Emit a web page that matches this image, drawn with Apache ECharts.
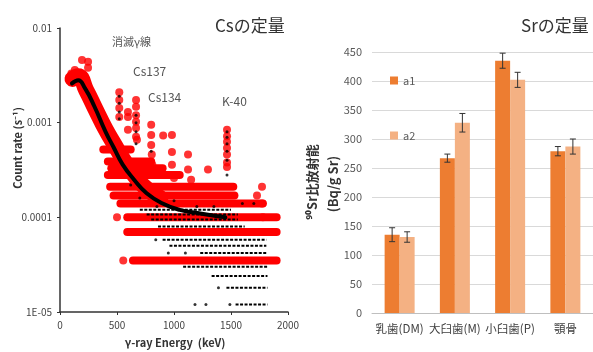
<!DOCTYPE html>
<html>
<head>
<meta charset="utf-8">
<script src="https://cdn.jsdelivr.net/npm/echarts@6/dist/echarts.min.js"></script>
<style>
html, body { margin: 0; padding: 0; background: #fff; }
#main { width: 593px; height: 352px; }
</style>
</head>
<body>
<div id="main"></div>
<script>
// ---- left: Cs spectrum (log scale) ----
var yTickLabels = ['1E-05', '0.0001', '0.001', '0.01'];

// main decay curve (black band)
var curvePts = [[105, 0.0026], [160, 0.0028], [220, 0.0023], [300, 0.0015], [400, 0.0008], [470, 0.00055],
    [550, 0.00036], [650, 0.00025], [760, 0.00018], [900, 0.00014], [1050, 0.00012], [1230, 0.00011], [1450, 0.0001]];
// red cloud around the curve
var redBandPts = [[110, 0.0029], [160, 0.0031], [230, 0.0022], [310, 0.0014], [400, 0.00085], [480, 0.00058],
    [560, 0.0004], [650, 0.00028], [760, 0.0002], [880, 0.00016]];
// quantized rows of red points: [count rate, from keV, to keV]
var redRows = [[5.2e-4, 380, 620], [3.9e-4, 420, 800], [3.3e-4, 450, 900], [2.8e-4, 420, 1050],
    [2.1e-4, 440, 1520], [1.7e-4, 470, 1530], [1.4e-4, 530, 1780], [1.0e-4, 590, 1900],
    [7.0e-5, 590, 1900], [3.5e-5, 640, 1900]];
// quantized rows of black points
var blackRows = [[1.2e-4, 700, 1500], [1.07e-4, 760, 1560], [9.5e-5, 800, 1560], [8.0e-5, 860, 1620],
    [5.8e-5, 900, 1810], [5.0e-5, 960, 1810], [4.2e-5, 1230, 1810], [3.0e-5, 1080, 1820],
    [2.4e-5, 1330, 1820], [1.8e-5, 1460, 1820], [1.2e-5, 1540, 1820]];
// isolated red points (peaks)
var redPts = [[100, 0.0033], [130, 0.0036], [193, 0.0046], [246, 0.0044], [246, 0.0038], [520, 0.0021], [520, 0.00174], [520, 0.00143],
    [520, 0.00115], [667, 0.00174], [667, 0.00147], [667, 0.0012], [667, 0.00102], [667, 0.00088],
    [667, 0.00071], [596, 0.0013], [596, 0.00115], [596, 0.00084], [675, 0.00066], [800, 0.00095],
    [800, 0.00074], [800, 0.00058], [805, 0.00046], [810, 0.00036], [905, 0.00073], [982, 0.00074],
    [982, 0.00049], [982, 0.00036], [1123, 0.00046], [1123, 0.00032], [1298, 0.00032],
    [1465, 0.00084], [1465, 0.00072], [1465, 0.00063], [1465, 0.00054], [1465, 0.00046],
    [1465, 0.00038], [1465, 0.00034], [1772, 0.00021], [1728, 0.00017], [1772, 0.00014],
    [1780, 0.0001], [555, 3.5e-5], [500, 1.0e-4], [1000, 0.00026], [1150, 0.00025]];
// isolated black points
var blackPts = [[520, 0.0019], [520, 0.0016], [520, 0.0013], [520, 0.0011], [667, 0.0012], [667, 0.001],
    [667, 0.0008], [667, 0.0006], [1465, 0.0008], [1465, 0.0007], [1465, 0.0006], [1465, 0.0005],
    [1465, 0.0004], [1465, 0.00028], [800, 0.0005], [1184, 1.2e-5], [1280, 1.2e-5], [1490, 1.2e-5],
    [1390, 1.8e-5], [950, 4.2e-5], [1100, 4.2e-5], [840, 5.8e-5], [620, 0.00022], [700, 0.00016],
    [850, 0.00013], [1000, 0.00015], [1200, 0.00013], [1350, 0.00013], [1600, 0.00014], [1700, 0.00014]];

// ---- right: Sr bars ----
var srCats = ['乳歯(DM)', '大臼歯(M)', '小臼歯(P)', '顎骨'];
var a1 = [135, 267, 435, 279];
var a1Err = [12, 7, 13, 8];
var a2 = [131, 328, 402, 287];
var a2Err = [9, 16, 13, 13];

var myChart = echarts.init(document.getElementById('main'));
var ff = '"Noto Sans CJK JP", "Noto Sans", sans-serif';

function errSeries(name, vals, errs, off) {
    return {
        name: name + 'err',
        type: 'custom',
        xAxisIndex: 1,
        yAxisIndex: 1,
        z: 5,
        data: vals.map(function (v, i) { return [i, v + errs[i], v - errs[i]]; }),
        renderItem: function (params, api) {
            var hi = api.coord([api.value(0), api.value(1)]);
            var lo = api.coord([api.value(0), api.value(2)]);
            var x = hi[0] + off;
            var st = { stroke: '#333', lineWidth: 1 };
            return {
                type: 'group',
                children: [
                    { type: 'line', shape: { x1: x, y1: hi[1], x2: x, y2: lo[1] }, style: st },
                    { type: 'line', shape: { x1: x - 3, y1: hi[1], x2: x + 3, y2: hi[1] }, style: st },
                    { type: 'line', shape: { x1: x - 3, y1: lo[1], x2: x + 3, y2: lo[1] }, style: st }
                ]
            };
        }
    };
}

var series = [];
// red band + rows
series.push({
    type: 'line', xAxisIndex: 0, yAxisIndex: 0, data: redBandPts, symbol: 'none', smooth: true,
    lineStyle: { color: '#ff0000', width: 16, cap: 'round', join: 'round' }, silent: true, z: 1
});
redRows.forEach(function (r) {
    series.push({
        type: 'line', xAxisIndex: 0, yAxisIndex: 0, data: [[r[1], r[0]], [r[2], r[0]]], symbol: 'none',
        lineStyle: { color: '#ff0000', width: 8, cap: 'round' }, silent: true, z: 1
    });
});
series.push({
    type: 'scatter', xAxisIndex: 0, yAxisIndex: 0, data: redPts, symbolSize: 8,
    itemStyle: { color: '#ff0000' }, silent: true, z: 2
});
blackRows.forEach(function (r) {
    series.push({
        type: 'line', xAxisIndex: 0, yAxisIndex: 0, data: [[r[1], r[0]], [r[2], r[0]]], symbol: 'none',
        lineStyle: { color: '#000', width: 2, type: [3, 1.5] }, silent: true, z: 3
    });
});
series.push({
    type: 'line', xAxisIndex: 0, yAxisIndex: 0, data: curvePts, symbol: 'none', smooth: true,
    lineStyle: { color: '#000', width: 4, cap: 'round' }, silent: true, z: 3
});
series.push({
    type: 'scatter', xAxisIndex: 0, yAxisIndex: 0, data: blackPts, symbolSize: 3,
    itemStyle: { color: '#000' }, silent: true, z: 4
});
// bars
series.push({
    name: 'a1', type: 'bar', xAxisIndex: 1, yAxisIndex: 1, data: a1, barWidth: 15, barGap: '0%',
    itemStyle: { color: '#ed7d31' }
});
series.push({
    name: 'a2', type: 'bar', xAxisIndex: 1, yAxisIndex: 1, data: a2, barWidth: 15, barGap: '0%',
    itemStyle: { color: '#f4b183' }
});
series.push(errSeries('a1', a1, a1Err, -7.5));
series.push(errSeries('a2', a2, a2Err, 7.5));

option = {
    animation: false,
    textStyle: { fontFamily: ff },
    title: [
        { text: 'Csの定量', left: 210, top: 12, textStyle: { fontFamily: ff, fontSize: 17, fontWeight: 'normal', color: '#333' } },
        { text: 'Srの定量', left: 516, top: 12, textStyle: { fontFamily: ff, fontSize: 17, fontWeight: 'normal', color: '#333' } }
    ],
    legend: {
        data: ['a1', 'a2'], orient: 'vertical', left: 385, top: 70, itemWidth: 8, itemHeight: 8, itemGap: 44,
        icon: 'rect', textStyle: { color: '#595959', fontSize: 11, fontFamily: ff }
    },
    grid: [
        { left: 60, top: 28, width: 228, bottom: 40 },
        { left: 372, top: 52, width: 224, bottom: 39 }
    ],
    xAxis: [
        {
            gridIndex: 0, type: 'value', min: 0, max: 2000, interval: 500,
            axisLine: { lineStyle: { color: '#333', width: 1.5 } },
            axisTick: { length: 3, lineStyle: { color: '#333' } },
            axisLabel: { color: '#444', fontSize: 10, margin: 8, formatter: function (v) { return String(v); } },
            splitLine: { show: false }
        },
        {
            gridIndex: 1, type: 'category', data: srCats,
            axisLine: { lineStyle: { color: '#bfbfbf' } },
            axisTick: { length: 5, lineStyle: { color: '#bfbfbf' } },
            axisLabel: { color: '#404040', fontSize: 11.5, margin: 10, interval: 0 }
        }
    ],
    yAxis: [
        {
            gridIndex: 0, type: 'log', logBase: 10, min: 1e-5, max: 0.01,
            axisLine: { show: true, lineStyle: { color: '#333', width: 1.5 } },
            axisTick: { show: true, length: 3, lineStyle: { color: '#333' } },
            axisLabel: {
                color: '#444', fontSize: 10, margin: 8,
                formatter: function (v) { return yTickLabels[Math.round(Math.log10(v)) + 5]; }
            },
            splitLine: { show: false }
        },
        {
            gridIndex: 1, type: 'value', min: 0, max: 450, interval: 50,
            axisLine: { show: false }, axisTick: { show: false },
            axisLabel: { color: '#595959', fontSize: 11, margin: 10 },
            splitLine: { lineStyle: { color: '#d9d9d9' } }
        }
    ],
    graphic: [
        { type: 'text', left: 112, top: 36, style: { text: '消滅γ線', fontSize: 11, fill: '#555', fontFamily: ff } },
        { type: 'text', left: 133, top: 65, style: { text: 'Cs137', fontSize: 12, fill: '#555', fontFamily: ff } },
        { type: 'text', left: 148, top: 91, style: { text: 'Cs134', fontSize: 12, fill: '#555', fontFamily: ff } },
        { type: 'text', left: 222, top: 95, style: { text: 'K-40', fontSize: 12, fill: '#555', fontFamily: ff } },
        { type: 'text', x: 18, y: 148, rotation: Math.PI / 2, style: { text: 'Count rate (s⁻¹)', fontSize: 11, fontWeight: 'bold', fill: '#333', fontFamily: ff, align: 'center', verticalAlign: 'middle' } },
        { type: 'text', x: 175, y: 343, style: { text: 'γ-ray Energy  (keV)', fontSize: 11, fontWeight: 'bold', fill: '#333', fontFamily: ff, align: 'center', verticalAlign: 'middle' } },
        { type: 'text', x: 312, y: 182, rotation: Math.PI / 2, style: { text: '⁹⁰Sr比放射能', fontSize: 13, fontWeight: 'bold', fill: '#333', fontFamily: ff, align: 'center', verticalAlign: 'middle' } },
        { type: 'text', x: 333, y: 184, rotation: Math.PI / 2, style: { text: '(Bq/g Sr)', fontSize: 13, fontWeight: 'bold', fill: '#333', fontFamily: ff, align: 'center', verticalAlign: 'middle' } }
    ],
    series: series
};
myChart.setOption(option);
window.addEventListener('resize', function () {
    myChart.resize();
});
</script>
</body>
</html>
